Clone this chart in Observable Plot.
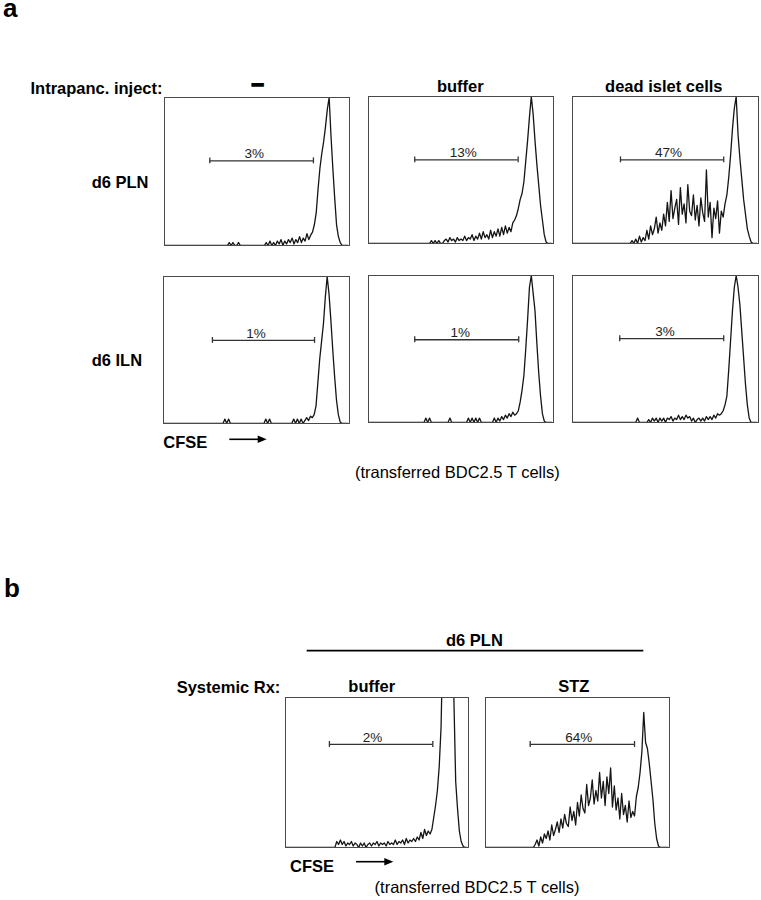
<!DOCTYPE html>
<html>
<head>
<meta charset="utf-8">
<script src="https://cdn.jsdelivr.net/npm/d3@7"></script>
<script src="https://cdn.jsdelivr.net/npm/@observablehq/plot@0.6"></script>
<style>
  html, body { margin: 0; padding: 0; background: #fff; }
  #fig { position: relative; width: 761px; height: 900px; overflow: hidden;
         font-family: "Liberation Sans", Arial, Helvetica, sans-serif; }
  .panel { position: absolute; }
  #notes { position: absolute; left: 0; top: 0; pointer-events: none; }
</style>
</head>
<body>
<div id="fig"></div>
<script>
// ---------------- DATA ----------------
// CFSE channel bins 0..99 (left to right), counts as % of panel height
const panelNames = ["d6 PLN / –", "d6 PLN / buffer", "d6 PLN / dead islet cells",
                    "d6 ILN / –", "d6 ILN / buffer", "d6 ILN / dead islet cells",
                    "Systemic buffer", "Systemic STZ"];
const gateLabels = ["3%", "13%", "47%", "1%", "1%", "3%", "2%", "64%"];
const gateStart  = [24.5, 25.0, 25.8, 26.3, 25.0, 25.4, 24.0, 24.3];
const gateEnd    = [80.5, 80.9, 81.3, 81.2, 81.2, 81.3, 80.5, 81.0];
const gateLevel  = [57.2, 56.9, 56.9, 56.5, 56.3, 57.0, 68.7, 68.7];
const labelPos   = [48.5, 51.2, 51.6, 49.7, 49.6, 49.7, 47.5, 50.7];

const countsPLNnone = [
  0,0,0,0,0,0,0,0,0,0,
  0,0,0,0,0,0,0,0,0,0,
  0,0,0,0,0,0,0,0,0,0,
  0,0,0,0,0,2,0,2,0,0,
  2,0,0,0,0,0,0,0,0,0,
  0,0,0,0,0,2,0,3,0,2,
  0,3,1,4,0,3,1,4,2,5,
  1,4,2,6,2,5,3,8,4,7,
  9,14,22,38,52,62,70,80,92,100,
  74,52,32,14,6,2,0,0,0,0];
const countsPLNbuffer = [
  0,0,0,0,0,0,0,0,0,0,
  0,0,0,0,0,0,0,0,0,0,
  0,0,0,0,0,0,0,0,0,0,
  0,0,0,0,2,0,2,0,2,0,
  0,2,3,1,4,2,3,1,4,2,
  3,2,5,2,4,3,6,2,5,3,
  7,3,8,4,6,3,9,4,8,5,
  10,5,11,6,12,7,11,8,14,16,
  19,24,30,34,42,56,70,86,100,88,
  70,54,40,26,16,6,1,0,0,0];
const countsPLNdead = [
  0,0,0,0,0,0,0,0,0,0,
  0,0,0,0,0,0,0,0,0,0,
  0,0,0,0,0,0,0,0,0,0,
  0,0,2,0,3,0,5,1,4,2,
  9,3,12,6,10,18,7,14,9,20,
  12,28,15,36,17,24,30,13,38,20,
  27,14,40,22,19,33,16,26,12,31,
  21,15,50,18,28,4,24,17,29,7,
  22,18,27,33,45,60,78,92,100,74,
  58,44,30,20,10,5,1,0,0,0];
const countsILNnone = [
  0,0,0,0,0,0,0,0,0,0,
  0,0,0,0,0,0,0,0,0,0,
  0,0,0,0,0,0,0,0,0,0,
  0,0,0,3,0,3,0,0,0,0,
  0,0,0,0,0,0,0,0,0,0,
  0,0,0,0,0,3,0,3,0,0,
  0,0,0,0,0,0,0,0,0,0,
  3,0,3,0,3,0,2,4,2,5,
  4,6,12,28,44,56,68,86,100,88,
  70,50,32,16,6,1,0,0,0,0];
const countsILNbuffer = [
  0,0,0,0,0,0,0,0,0,0,
  0,0,0,0,0,0,0,0,0,0,
  0,0,0,0,0,0,0,0,0,0,
  0,3,0,3,0,0,0,0,0,0,
  0,0,0,0,3,0,0,0,0,0,
  0,0,0,0,3,0,3,0,3,0,
  3,0,0,0,0,0,0,0,3,0,
  3,1,4,2,5,3,6,4,7,5,
  6,8,14,22,32,50,70,92,100,88,
  76,54,34,18,6,1,0,0,0,0];
const countsILNdead = [
  0,0,0,0,0,0,0,0,0,0,
  0,0,0,0,0,0,0,0,0,0,
  0,0,0,0,0,0,0,0,0,0,
  0,0,0,0,0,3,0,0,0,0,
  0,2,0,3,1,3,0,3,1,3,
  0,3,2,4,1,3,2,5,2,4,
  2,5,3,4,1,3,0,2,3,1,
  3,1,4,2,4,2,5,3,6,5,
  6,8,12,18,36,56,76,92,100,92,
  80,62,44,26,12,3,0,0,0,0];
const countsSysBuffer = [
  0,0,0,0,0,0,0,0,0,0,
  0,0,0,0,0,0,0,0,0,0,
  0,0,0,0,0,0,0,0,4,2,
  5,2,4,1,3,2,4,1,3,2,
  0,3,1,3,0,2,3,1,3,2,
  4,1,3,2,3,1,4,2,3,2,
  5,2,4,3,5,2,6,3,5,4,
  6,4,7,5,10,6,12,8,11,9,
  12,20,28,38,54,80,140,220,240,230,
  200,150,100,44,26,11,4,1,0,0];
const countsSysSTZ = [
  0,0,0,0,0,0,0,0,0,0,
  0,0,0,0,0,0,0,0,0,0,
  0,0,0,0,0,0,0,2,5,1,
  7,3,9,6,11,5,15,8,12,17,
  10,19,13,22,16,14,27,18,24,15,
  30,21,35,26,23,42,28,33,45,29,
  38,31,50,33,44,28,47,36,53,27,
  41,25,33,19,36,22,28,17,31,20,
  24,21,34,40,50,64,90,70,66,56,
  44,32,16,6,1,0,0,0,0,0];

const allCounts = [countsPLNnone, countsPLNbuffer, countsPLNdead,
                   countsILNnone, countsILNbuffer, countsILNdead,
                   countsSysBuffer, countsSysSTZ];

// ---------------- LAYOUT ----------------
const layout = [
  {left: 164, top: 97,  w: 185, h: 148},
  {left: 368, top: 96,  w: 185, h: 147},
  {left: 572, top: 96,  w: 186, h: 147},
  {left: 163, top: 276, w: 186, h: 147},
  {left: 368, top: 275, w: 185, h: 147},
  {left: 572, top: 275, w: 186, h: 147},
  {left: 285, top: 697, w: 183, h: 150},
  {left: 485, top: 697, w: 184, h: 150}
];
const FONT = "'Liberation Sans', Arial, Helvetica, sans-serif";
const fig = document.getElementById("fig");

allCounts.forEach((counts, k) => {
  const L = layout[k];
  const hist = counts.map((c, i) => ({bin: i, count: c}));
  const gate = [{x1: gateStart[k], x2: gateEnd[k], y: gateLevel[k],
                 lx: labelPos[k], label: gateLabels[k]}];
  const caps = [
    {x: gateStart[k], y1: gateLevel[k] - 2, y2: gateLevel[k] + 2},
    {x: gateEnd[k],   y1: gateLevel[k] - 2, y2: gateLevel[k] + 2}
  ];
  const chart = Plot.plot({
    width: L.w + 2, height: L.h + 2,
    marginTop: 1, marginRight: 1, marginBottom: 1, marginLeft: 1,
    x: {domain: [0, 100], axis: null},
    y: {domain: [0, 100], axis: null},
    style: {background: "transparent", overflow: "visible", fontFamily: FONT},
    marks: [
      Plot.lineY(hist, {x: "bin", y: "count", stroke: "#151515",
                        strokeWidth: 1.3, clip: true}),
      Plot.frame({stroke: "#4a4a4a", strokeWidth: 1}),
      Plot.ruleY(gate, {y: "y", x1: "x1", x2: "x2", stroke: "#333", strokeWidth: 1.3}),
      Plot.ruleX(caps, {x: "x", y1: "y1", y2: "y2", stroke: "#333", strokeWidth: 1.3}),
      Plot.text(gate, {x: "lx", y: "y", text: "label", dy: -2.5, lineAnchor: "bottom",
                       fontSize: 13.5, fill: "#222", fontFamily: FONT})
    ]
  });
  chart.classList.add("panel");
  chart.style.left = (L.left - 1) + "px";
  chart.style.top = (L.top - 1) + "px";
  chart.setAttribute("aria-label", panelNames[k]);
  fig.appendChild(chart);
});

// ---------------- ANNOTATIONS ----------------
const notes = [
  {t: "a", x: 3, y: 17, size: 26, bold: true},
  {t: "Intrapanc. inject:", x: 30.5, y: 94.3, size: 16.5, bold: true},
  {t: "–", x: 257.5, y: 91, size: 22, bold: true, anchor: "middle", thick: true},
  {t: "buffer", x: 460.3, y: 92.3, size: 16.5, bold: true, anchor: "middle"},
  {t: "dead islet cells", x: 663.8, y: 91.8, size: 16.5, bold: true, anchor: "middle"},
  {t: "d6 PLN", x: 91.7, y: 188.3, size: 16.5, bold: true},
  {t: "d6 ILN", x: 91.7, y: 366, size: 16.5, bold: true},
  {t: "CFSE", x: 163.3, y: 448.3, size: 16.5, bold: true},
  {t: "(transferred BDC2.5 T cells)", x: 457.3, y: 477.7, size: 16.5, anchor: "middle"},
  {t: "b", x: 4, y: 596.7, size: 26, bold: true},
  {t: "d6 PLN", x: 446, y: 646, size: 16.5, bold: true},
  {t: "Systemic Rx:", x: 176.7, y: 693.3, size: 16.5, bold: true},
  {t: "buffer", x: 371.7, y: 691.7, size: 16.5, bold: true, anchor: "middle"},
  {t: "STZ", x: 573.8, y: 692.3, size: 16.5, bold: true, anchor: "middle"},
  {t: "CFSE", x: 290, y: 871.7, size: 16.5, bold: true},
  {t: "(transferred BDC2.5 T cells)", x: 477, y: 893, size: 16.5, anchor: "middle"}
];
const arrows = [
  {x1: 229.3, x2: 266.7, y: 439.3},
  {x1: 356, x2: 393.3, y: 861.7}
];

const svg = d3.select(fig).append("svg")
  .attr("id", "notes").attr("width", 761).attr("height", 900)
  .style("font-family", FONT);

notes.forEach(n => {
  const t = svg.append("text")
    .attr("x", n.x).attr("y", n.y)
    .attr("text-anchor", n.anchor || "start")
    .attr("font-size", n.size)
    .attr("font-weight", n.bold ? "bold" : "normal")
    .attr("fill", "#000")
    .text(n.t);
  if (n.thick) t.attr("stroke", "#000").attr("stroke-width", 1.6);
});

arrows.forEach(a => {
  svg.append("line").attr("x1", a.x1).attr("x2", a.x2 - 6).attr("y1", a.y).attr("y2", a.y)
    .attr("stroke", "#000").attr("stroke-width", 1.6);
  svg.append("path")
    .attr("d", `M${a.x2},${a.y} L${a.x2 - 9},${a.y - 3.8} L${a.x2 - 9},${a.y + 3.8} Z`)
    .attr("fill", "#000");
});

// header rule over panel b
svg.append("line").attr("x1", 306.7).attr("x2", 643.3).attr("y1", 650.7).attr("y2", 650.7)
  .attr("stroke", "#000").attr("stroke-width", 1.8);
</script>
</body>
</html>
